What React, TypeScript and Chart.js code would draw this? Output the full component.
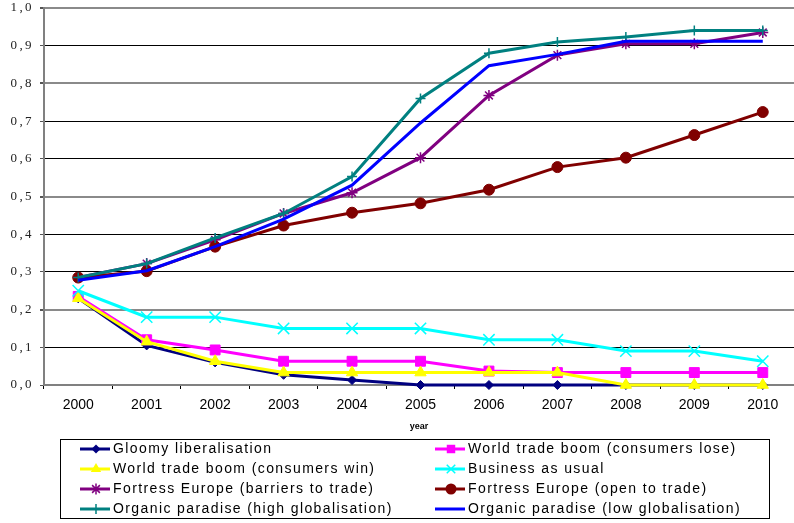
import React, { useEffect, useRef } from 'react';
import { Chart, registerables } from 'chart.js';

Chart.register(...registerables);

const years = ['2000', '2001', '2002', '2003', '2004', '2005', '2006', '2007', '2008', '2009', '2010'];
const yTicks = [0, 0.1, 0.2, 0.3, 0.4, 0.5, 0.6, 0.7, 0.8, 0.9, 1.0];

const gloomyLiberalisation = [0.23, 0.105, 0.06, 0.027, 0.013, 0, 0, 0, 0, 0, 0];
const tradeBoomLose = [0.235, 0.12, 0.093, 0.063, 0.063, 0.063, 0.037, 0.033, 0.033, 0.033, 0.033];
const tradeBoomWin = [0.23, 0.115, 0.063, 0.033, 0.033, 0.033, 0.033, 0.033, 0, 0, 0];
const businessAsUsual = [0.25, 0.18, 0.18, 0.15, 0.15, 0.15, 0.12, 0.12, 0.09, 0.09, 0.063];
const fortressBarriers = [0.285, 0.322, 0.385, 0.455, 0.51, 0.603, 0.768, 0.875, 0.905, 0.905, 0.935];
const fortressOpen = [0.285, 0.302, 0.367, 0.423, 0.457, 0.482, 0.518, 0.578, 0.603, 0.663, 0.724];
const organicHigh = [0.285, 0.322, 0.39, 0.455, 0.553, 0.76, 0.88, 0.91, 0.923, 0.94, 0.94];
const organicLow = [0.278, 0.303, 0.367, 0.44, 0.53, 0.695, 0.847, 0.877, 0.912, 0.912, 0.912];

const seriesNames = [
  'Gloomy liberalisation',
  'World trade boom (consumers lose)',
  'World trade boom (consumers win)',
  'Business as usual',
  'Fortress Europe (barriers to trade)',
  'Fortress Europe (open to trade)',
  'Organic paradise (high globalisation)',
  'Organic paradise (low globalisation)',
];
const seriesData = [gloomyLiberalisation, tradeBoomLose, tradeBoomWin, businessAsUsual, fortressBarriers, fortressOpen, organicHigh, organicLow];
const seriesColors = ['#000080', '#FF00FF', '#FFFF00', '#00FFFF', '#800080', '#800000', '#008080', '#0000FF'];
const seriesMarkers = ['rectRot', 'rect', 'triangle', 'crossRot', 'star', 'circle', 'cross', 'none'];
const markerRadius = [4.5, 7, 6.5, 8, 5.5, 5.5, 5, 0];

const fmt = (v: number) => v.toFixed(1).replace('.', ',');

function drawMarker(ctx: CanvasRenderingContext2D, style: string, x: number, y: number, r: number, color: string) {
  ctx.save();
  ctx.fillStyle = color;
  ctx.strokeStyle = color;
  ctx.lineWidth = 1.5;
  ctx.beginPath();
  if (style === 'rectRot') {
    ctx.moveTo(x, y - r); ctx.lineTo(x + r, y); ctx.lineTo(x, y + r); ctx.lineTo(x - r, y); ctx.closePath(); ctx.fill();
  } else if (style === 'rect') {
    const s = r * Math.SQRT1_2;
    ctx.rect(x - s, y - s, 2 * s, 2 * s); ctx.fill();
  } else if (style === 'triangle') {
    ctx.moveTo(x, y - r); ctx.lineTo(x + r * 0.87, y + r * 0.5); ctx.lineTo(x - r * 0.87, y + r * 0.5); ctx.closePath(); ctx.fill();
  } else if (style === 'circle') {
    ctx.arc(x, y, r, 0, Math.PI * 2); ctx.fill();
  } else if (style === 'crossRot') {
    const s = r * Math.SQRT1_2;
    ctx.moveTo(x - s, y - s); ctx.lineTo(x + s, y + s); ctx.moveTo(x + s, y - s); ctx.lineTo(x - s, y + s); ctx.stroke();
  } else if (style === 'star') {
    const s = r * Math.SQRT1_2;
    ctx.moveTo(x - s, y - s); ctx.lineTo(x + s, y + s); ctx.moveTo(x + s, y - s); ctx.lineTo(x - s, y + s);
    ctx.moveTo(x, y - r); ctx.lineTo(x, y + r); ctx.stroke();
  } else if (style === 'cross') {
    ctx.moveTo(x, y - r); ctx.lineTo(x, y + r); ctx.moveTo(x - r * 0.6, y); ctx.lineTo(x + r * 0.6, y); ctx.stroke();
  }
  ctx.restore();
}

const textPlugin = {
  id: 'customText',
  beforeDraw(chart: any) {
    chart.ctx.letterSpacing = '0px';
  },
  afterDraw(chart: any) {
    const ctx: CanvasRenderingContext2D = chart.ctx;
    const ca = chart.chartArea;
    const yScale = chart.scales.y;
    ctx.save();

    // y tick labels (drawn at the library's scale positions)
    (ctx as any).letterSpacing = '2.4px';
    ctx.fillStyle = '#222';
    ctx.font = '13px "Liberation Serif", "Times New Roman", serif';
    ctx.textAlign = 'right';
    ctx.textBaseline = 'middle';
    yTicks.forEach((v) => {
      ctx.fillText(fmt(v), ca.left - 10, yScale.getPixelForValue(v));
    });

    (ctx as any).letterSpacing = '0px';
    ctx.fillStyle = '#000';
    ctx.font = 'bold 9px "Liberation Sans", Arial, sans-serif';
    ctx.textAlign = 'center';
    ctx.fillText('year', 419, 427);

    ctx.strokeStyle = '#000';
    ctx.lineWidth = 1;
    ctx.strokeRect(60.5, 439.5, 709, 79);

    (ctx as any).letterSpacing = '1.4px';
    ctx.font = '14px "Liberation Sans", Arial, sans-serif';
    ctx.textAlign = 'left';
    const colX = [80, 435];
    const rowY = [449, 469, 489, 509];
    seriesNames.forEach((name, i) => {
      const cx = colX[i % 2];
      const cy = rowY[Math.floor(i / 2)];
      ctx.strokeStyle = seriesColors[i];
      ctx.lineWidth = 3;
      ctx.beginPath();
      ctx.moveTo(cx, cy);
      ctx.lineTo(cx + 30, cy);
      ctx.stroke();
      if (seriesMarkers[i] !== 'none') {
        drawMarker(ctx, seriesMarkers[i], cx + 16, cy, Math.min(markerRadius[i], 6), seriesColors[i]);
      }
      ctx.fillStyle = '#000';
      ctx.fillText(name, cx + 33, cy);
    });
    ctx.restore();
  },
};

export default function App() {
  const canvasRef = useRef<HTMLCanvasElement | null>(null);

  useEffect(() => {
    document.body.style.margin = '0';
    const canvas = canvasRef.current;
    if (!canvas) return;
    const datasets = seriesNames.map((name, i) => ({
      label: name,
      data: seriesData[i],
      borderColor: seriesColors[i],
      backgroundColor: seriesColors[i],
      borderWidth: 3,
      pointStyle: seriesMarkers[i] === 'none' ? 'circle' : seriesMarkers[i],
      pointRadius: markerRadius[i],
      pointBorderWidth: ['crossRot', 'star', 'cross'].includes(seriesMarkers[i]) ? 1.5 : 1,
      pointBorderColor: seriesColors[i],
      pointBackgroundColor: seriesColors[i],
      tension: 0,
      clip: false,
      order: seriesNames.length - i,
    }));
    const chart = new Chart(canvas, {
      type: 'line',
      data: { labels: years, datasets: datasets as any },
      options: {
        animation: false,
        responsive: false,
        events: [],
        layout: { autoPadding: false, padding: { top: 8, left: 0, right: 0, bottom: 0 } },
        plugins: { legend: { display: false }, tooltip: { enabled: false } },
        scales: {
          x: {
            offset: true,
            grid: {
              offset: true,
              drawOnChartArea: false,
              drawTicks: true,
              tickLength: 4,
              color: '#000',
            },
            border: { color: '#808080', width: 2 },
            ticks: {
              color: '#000',
              padding: 8,
              maxRotation: 0,
              autoSkip: false,
              font: { family: '"Liberation Sans", Arial, sans-serif', size: 14 },
            },
            afterFit(scale: any) {
              scale.height = 138;
              scale.paddingLeft = 0;
              scale.paddingRight = 0;
            },
          },
          y: {
            min: 0,
            max: 1,
            afterBuildTicks(scale: any) {
              scale.ticks = yTicks.map((v) => ({ value: v }));
            },
            grid: {
              color: (c: any) => ([2, 5, 8, 10].includes(c.index) ? '#8a8a8a' : '#000'),
              lineWidth: (c: any) => ([2, 5, 8, 10].includes(c.index) ? 2 : 1),
              tickColor: '#555',
              tickLength: 4,
            },
            border: { color: '#808080', width: 2 },
            ticks: { display: false },
            afterFit(scale: any) {
              scale.width = 44;
              scale.paddingTop = 0;
              scale.paddingBottom = 0;
            },
          },
        },
      },
      plugins: [textPlugin],
    });
    return () => chart.destroy();
  }, []);

  return (
    <div style={{ width: 794, height: 523, overflow: 'hidden' }}>
      <canvas ref={canvasRef} width={797} height={523} />
    </div>
  );
}
